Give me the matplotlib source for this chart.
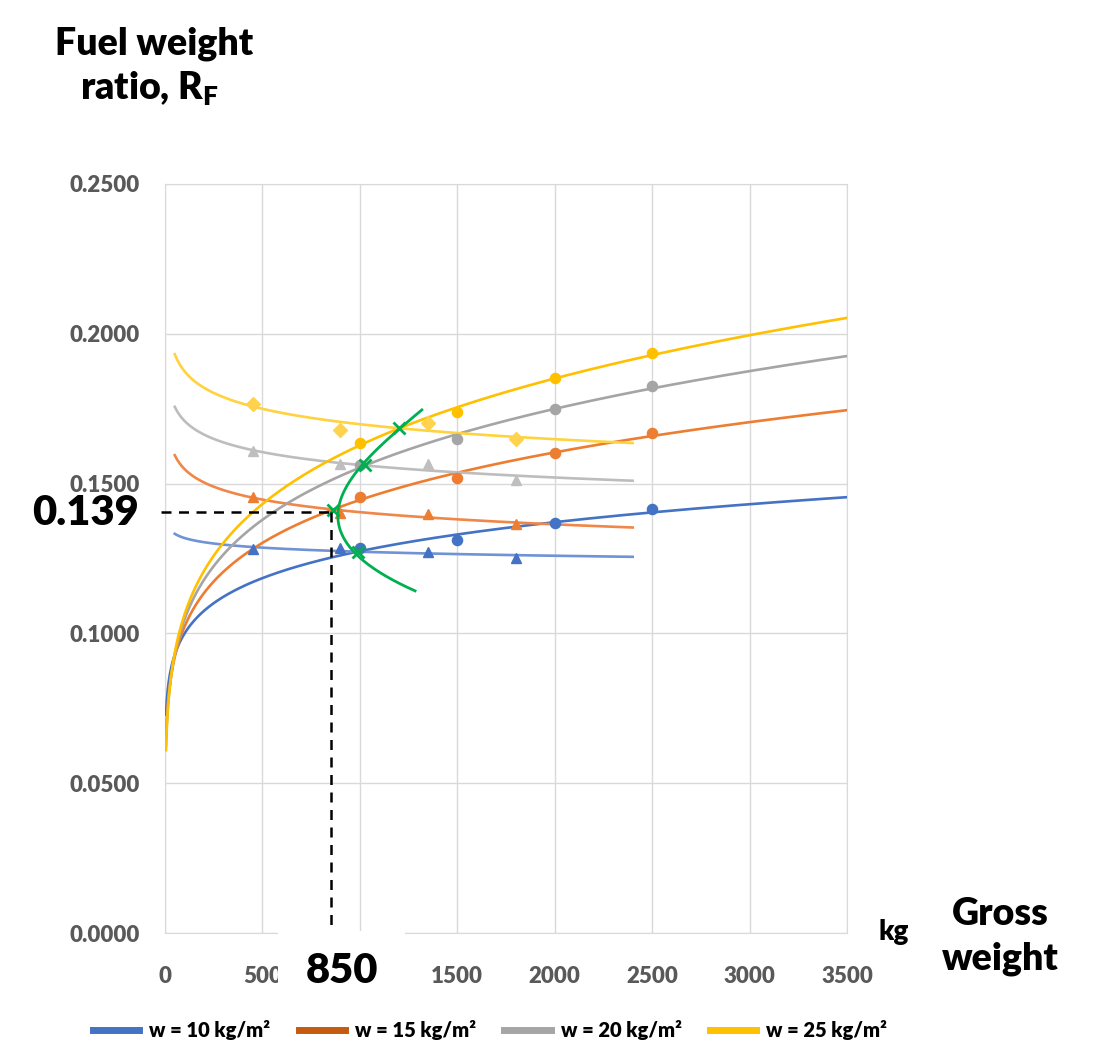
import numpy as np
import matplotlib
matplotlib.use('Agg')
import matplotlib.pyplot as plt
from matplotlib.lines import Line2D
from matplotlib.patches import Rectangle

plt.rcParams['font.family'] = ['Lato', 'DejaVu Sans']
plt.rcParams['mathtext.fontset'] = 'custom'
plt.rcParams['mathtext.rm'] = 'Lato:heavy'
plt.rcParams['mathtext.bf'] = 'Lato:heavy'

# dados
pesos = ['10', '15', '20', '25']
gw_circ = np.array([1000, 1500, 2000, 2500])
rf_circ_10 = [0.1285, 0.1312, 0.1368, 0.1415]
rf_circ_15 = [0.1455, 0.1519, 0.1602, 0.1669]
rf_circ_20 = [0.1562, 0.1649, 0.1749, 0.1826]
rf_circ_25 = [0.1636, 0.1739, 0.1852, 0.1936]

gw_tri = np.array([450, 900, 1350, 1800])
rf_tri_10 = [0.1282, 0.1285, 0.1272, 0.1252]
rf_tri_15 = [0.1455, 0.1402, 0.1399, 0.1365]
rf_tri_20 = [0.1609, 0.1565, 0.1565, 0.1512]
rf_tri_25 = [0.1766, 0.1679, 0.1702, 0.1649]

rf_circ = [rf_circ_10, rf_circ_15, rf_circ_20, rf_circ_25]
rf_tri = [rf_tri_10, rf_tri_15, rf_tri_20, rf_tri_25]

# extremidades da curva verde
verde_pontas_x = [1317, 1278]
verde_pontas_y = [0.1746, 0.1142]

x_sel = 850
y_sel = 0.1405
rotulo_x = '850'
rotulo_y = '0.139'

xticks = np.arange(0, 3501, 500)
xtick_labels = ['0', '500', '', '1500', '2000', '2500', '3000', '3500']
yticks = np.arange(0, 0.2501, 0.05)

cor_sobe = ['#4472C4', '#ED7D31', '#A5A5A5', '#FFC000']
cor_desce = ['#6F93D5', '#F08648', '#BDBDBD', '#FFD23F']
cor_tri = ['#4472C4', '#ED7D31', '#BFBFBF', '#FFD34D']
cor_leg = ['#4472C4', '#C55A11', '#A5A5A5', '#FFC000']
verde = '#00B050'
PESO = 'heavy'


def ajuste_potencia(x, y):
    b, ln_a = np.polyfit(np.log(x), np.log(y), 1)
    return lambda t: np.exp(ln_a) * t ** b


W, H = 1093, 1045
fx = lambda px: px / W
fy = lambda py: 1 - py / H

fig = plt.figure(figsize=(W / 100, H / 100), dpi=100)
ax = fig.add_axes([fx(165), fy(933), (847 - 165) / W, (933 - 184) / H])

x_sobe = np.linspace(5, 3500, 800)
x_desce = np.linspace(50, 2400, 400)
inter_x, inter_y = [], []

for i in range(4):
    f_sobe = ajuste_potencia(gw_circ, rf_circ[i])
    f_desce = ajuste_potencia(gw_tri, rf_tri[i])
    ax.plot(x_sobe, f_sobe(x_sobe), color=cor_sobe[i], lw=1.9, zorder=3)
    ax.plot(x_desce, f_desce(x_desce), color=cor_desce[i], lw=1.9, zorder=3)
    ax.plot(gw_circ, rf_circ[i], 'o', color=cor_sobe[i], ms=7.3, zorder=4)
    marc = 'D' if i == 3 else '^'
    ax.plot(gw_tri, rf_tri[i], marc, color=cor_tri[i], ms=7.8 if i < 3 else 6.8, zorder=4)
    # ponto de cruzamento das duas curvas
    xs = np.linspace(300, 2000, 6000)
    k = np.argmin(np.abs(f_sobe(xs) - f_desce(xs)))
    inter_x.append(xs[k])
    inter_y.append(f_sobe(xs[k]))

# curva verde: cruzamentos + extremidades
gy = np.array(inter_y + verde_pontas_y)
gx = np.array(inter_x + verde_pontas_x)
coef = np.polyfit(gy, gx, 3)
yy = np.linspace(min(verde_pontas_y), max(verde_pontas_y), 200)
ax.plot(np.polyval(coef, yy), yy, color=verde, lw=2, zorder=5)
ax.plot(inter_x, inter_y, 'x', color=verde, ms=8, mew=2, zorder=6)

# linhas tracejadas
ax.plot([-20, x_sel], [y_sel, y_sel], '--', color='black', lw=1.8, dashes=(4, 3), zorder=6, clip_on=False)
ax.plot([x_sel, x_sel], [y_sel, 0.0008], '--', color='black', lw=1.8, dashes=(4, 3), zorder=6)

ax.set_xlim(0, 3500)
ax.set_ylim(0, 0.25)
ax.set_xticks(xticks)
ax.set_xticklabels(xtick_labels)
ax.set_yticks(yticks)
ax.set_yticklabels(['%.4f' % v for v in yticks])
ax.grid(True, color='#D9D9D9', lw=1)
ax.set_axisbelow(True)
for s in ax.spines.values():
    s.set_color('#D9D9D9')
ax.tick_params(length=0, labelsize=16, labelcolor='#595959')
ax.tick_params(axis='y', pad=18)
ax.tick_params(axis='x', pad=24)
for t in ax.get_xticklabels() + ax.get_yticklabels():
    t.set_fontweight(PESO)

# caixa branca na frente do eixo x, atras do 850
fig.add_artist(Rectangle((fx(278), fy(1000)), (405 - 278) / W, (1000 - 931) / H,
                         transform=fig.transFigure, facecolor='white', edgecolor='none', zorder=5))

fig.text(fx(342), fy(983), rotulo_x, ha='center', va='baseline', fontsize=30, weight=PESO, zorder=6)
fig.text(fx(32), fy(525), rotulo_y, ha='left', va='baseline', fontsize=30, weight=PESO)

fig.text(fx(154), fy(55), 'Fuel weight', ha='center', va='baseline', fontsize=27, weight=PESO)
fig.text(fx(80), fy(100), r'ratio, R$_{\mathrm{F}}$', ha='left', va='baseline', fontsize=27, weight=PESO)

fig.text(fx(878), fy(940), 'kg', ha='left', va='baseline', fontsize=20, weight=PESO)
fig.text(fx(1000), fy(925), 'Gross', ha='center', va='baseline', fontsize=27, weight=PESO)
fig.text(fx(1000), fy(970), 'weight', ha='center', va='baseline', fontsize=27, weight=PESO)

handles = [Line2D([], [], color=c, lw=5) for c in cor_leg]
labels = ['w = %s kg/m²' % p for p in pesos]
fig.legend(handles, labels, loc='center', bbox_to_anchor=(fx(490), fy(1030)), ncol=4,
           frameon=False, prop={'size': 14.5, 'weight': PESO},
           handlelength=2.3, handletextpad=0.5, columnspacing=1.4)

fig.savefig('out.png', dpi=100)
